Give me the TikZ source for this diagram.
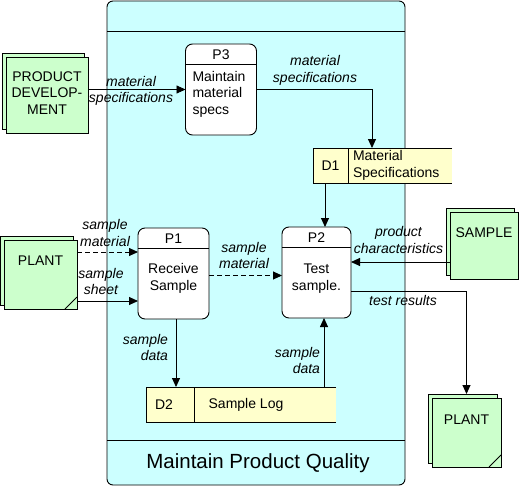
\documentclass[tikz,border=0pt]{standalone}
\usepackage{fontspec}
\setmainfont{Liberation Sans}
\usetikzlibrary{arrows.meta, calc, shadows}
\definecolor{ctxcyan}{HTML}{CCFFFF}
\definecolor{entgreen}{HTML}{CCFFCC}
\definecolor{storeyellow}{HTML}{FFFFCC}
\tikzset{
x=1pt, y=-1pt, % one unit is one pixel, y runs downwards
every node/.style={font=\fontsize{14}{16.5}\selectfont, inner sep=0pt, outer sep=0pt},
context/.style={draw, fill=ctxcyan, rounded corners=6pt, minimum width=298pt, minimum height=484pt}, % the big process box
proc/.style={draw, fill=white, rounded corners=7pt, minimum width=71pt, minimum height=91pt}, % processes P1..P3
store/.style={fill=storeyellow, minimum height=35pt}, % data stores, open on the right
ent/.style={draw, fill=entgreen, copy shadow={shadow xshift=-4pt, shadow yshift=4pt, draw=black, fill=entgreen}}, % external entities
flow/.style={-{Triangle[length=9pt,width=8pt]}}, % data flows
lbl/.style={font=\fontsize{14}{16.5}\selectfont\itshape, align=center}, % flow labels
}
\begin{document}
\begin{tikzpicture}[line width=0.9pt]
\useasboundingbox (0,0) rectangle (519,487);

% context
\node[context] (ctx) at (256,243) {};
\draw ([yshift=-30pt]ctx.north west) -- ([yshift=-30pt]ctx.north east);
\draw ([yshift=45pt]ctx.south west) -- ([yshift=45pt]ctx.south east);
\node[font=\fontsize{20.5}{24}\selectfont] (title) at (258,463) {Maintain Product Quality};

% processes
\node[proc] (p3) at (221,89.5) {};
\node[proc] (p1) at (173.5,273.5) {};
\node[proc, minimum width=69pt] (p2) at (316.5,272.5) {};
\foreach \p/\id in {p1/P1, p2/P2, p3/P3} {
  \draw ([yshift=-20pt]\p.north west) -- ([yshift=-20pt]\p.north east);
  \node (\p id) at ([yshift=-10.5pt]\p.north) {\id};
}
\node[align=left, anchor=west] (p3txt) at ([xshift=7pt,yshift=-4.5pt]p3.west) {Maintain\\material\\specs};
\node[align=center] (p1txt) at ([yshift=-5pt]p1.center) {Receive\\Sample};
\node[align=center] (p2txt) at ([yshift=-6pt]p2.center) {Test\\sample.};

% data stores
\node[store, minimum width=139pt] (d1) at (382.5,165.5) {};
\node[store, minimum width=190pt] (d2) at (241,404.5) {};
\foreach \s/\w in {d1/35, d2/48} {
  \draw (\s.north east) -- (\s.north west) -- (\s.south west) -- (\s.south east);
  \draw ([xshift=\w pt]\s.north west) -- ([xshift=\w pt]\s.south west);
}
\node (d1id) at ([xshift=17.5pt]d1.west) {D1};
\node[align=left, anchor=west] (d1txt) at ([xshift=40pt]d1.west) {Material\\Specifications};
\node (d2id) at ([xshift=18pt]d2.west) {D2};
\node (d2txt) at ([xshift=100pt]d2.west) {Sample Log};

% external entities
\node[ent, minimum width=82pt, minimum height=76pt] (pd) at (47,95) {};
\node[align=center] (pdtxt) at ([yshift=2pt]pd.center) {PRODUCT\\DEVELOP-\\MENT};
\node[ent, minimum width=68pt, minimum height=67pt] (sam) at (484,245.5) {};
\node (samtxt) at ([yshift=12.5pt]sam.center) {SAMPLE};
\node[ent, minimum width=73pt, minimum height=69pt] (pl1) at (40.5,274.5) {};
\node (pl1txt) at ([yshift=13.5pt]pl1.center) {PLANT};
\node[ent, minimum width=69pt, minimum height=69pt] (pl2) at (466.5,432.5) {};
\node (pl2txt) at ([yshift=12.5pt]pl2.center) {PLANT};
\foreach \e in {pl1, pl2}
  \draw ([xshift=-12pt]\e.south east) -- ([yshift=12pt]\e.south east);

% flows
\draw[flow] (pd.east |- p3.west) -- (p3.west);
\draw[flow] (p3.east) -| ([xshift=-10.5pt]d1.north);
\draw[flow] ($(p2.north |- d1.south)+(8.5,0)$) -- ($(p2.north)+(8.5,0)$);
\draw[flow] ($(sam.west)+(0,16.5)$) -- ($(sam.west -| p2.east)+(0,16.5)$);
\draw[flow] ($(p2.east)+(0,18.5)$) -| ($(pl2.north)+(0,-4)$);
\draw[flow, dash pattern=on 5pt off 3pt] ($(pl1.east)+(0,-22.5)$) -- ($(pl1.east -| p1.west)+(0,-22.5)$);
\draw[flow] ($(pl1.east)+(0,26.5)$) -- ($(pl1.east -| p1.west)+(0,26.5)$);
\draw[flow, dash pattern=on 5pt off 3pt] ($(p1.east)+(0,2)$) -- ($(p1.east -| p2.west)+(0,2)$);
\draw[flow] ($(p1.south)+(2.5,0)$) -- ($(p1.south |- d2.north)+(2.5,0)$);
\draw[flow] ($(d2.north -| p2.south)+(7.5,0)$) -- ($(p2.south)+(7.5,0)$);

% flow labels
\node[lbl] (l1) at (131,91) {material\\specifications};
\node[lbl] (l2) at (315,70.5) {material\\specifications};
\node[lbl] (l3) at (105,233) {sample\\material};
\node[lbl] (l4) at (101,281.5) {sample\\sheet};
\node[lbl] (l5) at (244,255.5) {sample\\material};
\node[lbl] (l6) at (398.5,240) {product\\characteristics};
\node[lbl] (l7) at (403,300) {test results};
\node[lbl, align=right, anchor=east] (l8) at (168,347.5) {sample\\data};
\node[lbl, align=right, anchor=east] (l9) at (320,360.5) {sample\\data};
\end{tikzpicture}
\end{document}
